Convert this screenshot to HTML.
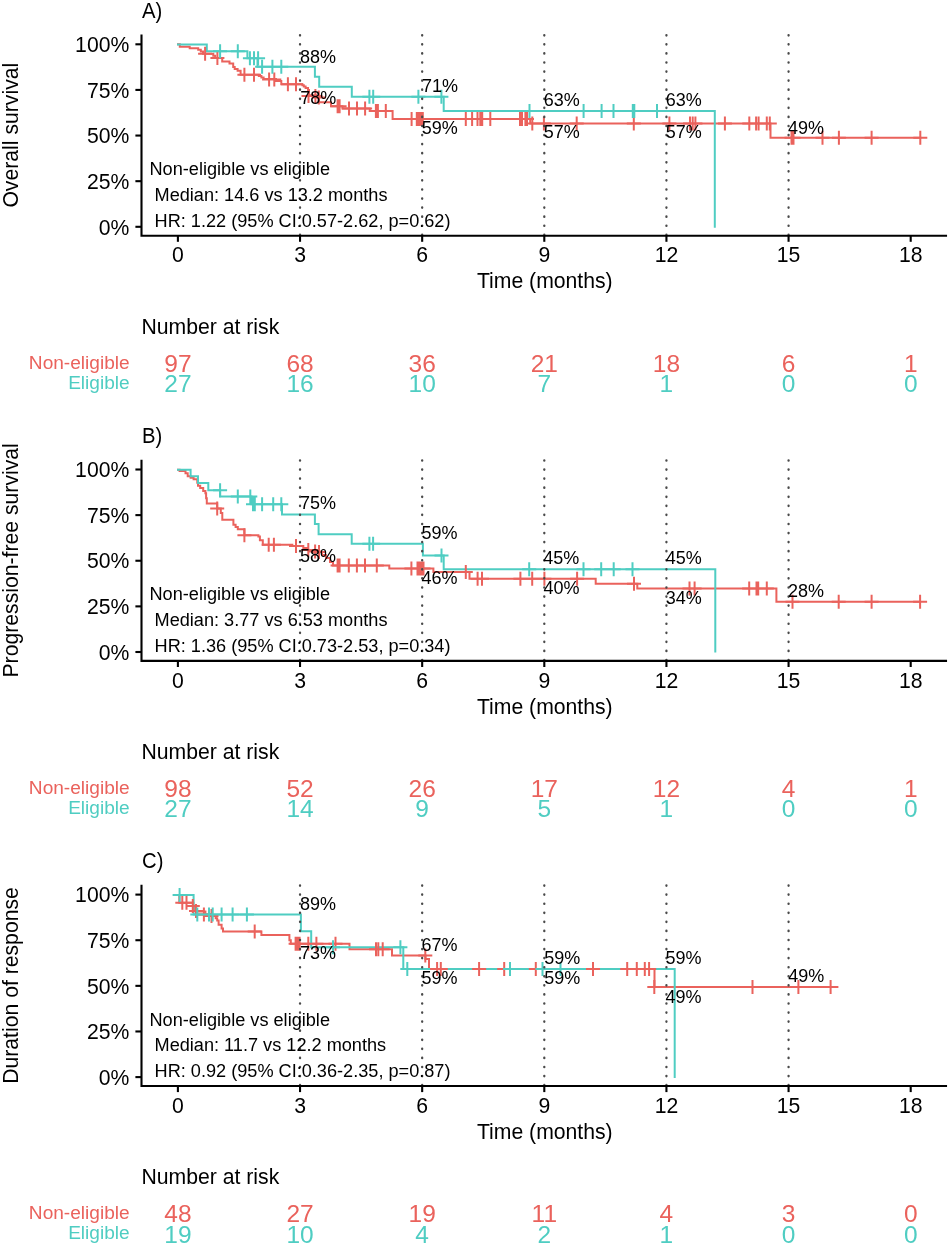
<!DOCTYPE html>
<html><head><meta charset="utf-8"><style>html,body{margin:0;padding:0;background:#fff;width:950px;height:1246px;overflow:hidden}svg text{white-space:pre} svg{will-change:transform}</style></head><body>
<svg width="950" height="1246" viewBox="0 0 950 1246" font-family='"Liberation Sans", sans-serif' style="display:block">
<rect width="950" height="1246" fill="#fff"/>
<g>
<path d="M178 44.3 H179.8 V46.7 H189.7 V48.3 H198.2 V49.8 H200.8 V51.6 H203 V53.8 H213.3 V55.7 H215.2 V57.9 H222.2 V61.6 H229.5 V63.4 H233.2 V67.1 H234.7 V69 H237.6 V70.8 H240.6 V74.8 H258.8 V76 H261.4 V77.4 H263.6 V78.9 H276 V81.1 H281.3 V84.2 H302.4 V85.2 H303.8 V86.5 H305.6 V87.9 H308 V90 H309 V95.3 H316 V97.2 H319 V102.3 H331 V106.3 H342.4 V108.5 H369.8 V110.9 H392.6 V119.1 H530.2 V123.6 H770.5 V137.8 H920.3" fill="none" stroke="#EA625C" stroke-width="2.0" stroke-linejoin="miter" stroke-linecap="square"/>
<path d="M178 44.5 H206.8 V51.2 H247.4 V58.3 H257.5 V66.7 H314.9 V76.8 H319.2 V86.7 H351.8 V96.7 H443.7 V111.1 H714.8 V226.8" fill="none" stroke="#4FCDC2" stroke-width="2.0" stroke-linejoin="miter" stroke-linecap="square"/>
<path d="M198.1 53.8h14.0M205.1 46.8v14.0 M210.4 57.9h14.0M217.4 50.9v14.0 M237.4 74.8h14.0M244.4 67.8v14.0 M247.0 74.8h14.0M254.0 67.8v14.0 M262.1 79.5h14.0M269.1 72.5v14.0 M267.3 79.5h14.0M274.3 72.5v14.0 M280.9 84.2h14.0M287.9 77.2v14.0 M289.0 84.2h14.0M296.0 77.2v14.0 M301.5 96.0h14.0M308.5 89.0v14.0 M308.4 96.0h14.0M315.4 89.0v14.0 M311.8 97.4h14.0M318.8 90.4v14.0 M330.6 106.3h14.0M337.6 99.3v14.0 M332.6 106.3h14.0M339.6 99.3v14.0 M342.0 108.5h14.0M349.0 101.5v14.0 M350.0 108.5h14.0M357.0 101.5v14.0 M358.1 108.5h14.0M365.1 101.5v14.0 M368.9 110.9h14.0M375.9 103.9v14.0 M370.9 110.9h14.0M377.9 103.9v14.0 M378.8 110.9h14.0M385.8 103.9v14.0 M404.6 119.1h14.0M411.6 112.1v14.0 M409.8 119.1h14.0M416.8 112.1v14.0 M411.8 119.1h14.0M418.8 112.1v14.0 M413.8 119.1h14.0M420.8 112.1v14.0 M415.8 119.1h14.0M422.8 112.1v14.0 M458.8 119.1h14.0M465.8 112.1v14.0 M465.1 119.1h14.0M472.1 112.1v14.0 M470.5 119.1h14.0M477.5 112.1v14.0 M473.3 119.1h14.0M480.3 112.1v14.0 M475.2 119.1h14.0M482.2 112.1v14.0 M483.3 119.1h14.0M490.3 112.1v14.0 M513.0 119.1h14.0M520.0 112.1v14.0 M515.0 119.1h14.0M522.0 112.1v14.0 M518.4 119.1h14.0M525.4 112.1v14.0 M520.0 119.1h14.0M527.0 112.1v14.0 M525.3 123.6h14.0M532.3 116.6v14.0 M536.9 123.6h14.0M543.9 116.6v14.0 M569.7 123.6h14.0M576.7 116.6v14.0 M626.8 123.6h14.0M633.8 116.6v14.0 M662.4 123.6h14.0M669.4 116.6v14.0 M683.0 123.6h14.0M690.0 116.6v14.0 M685.7 123.6h14.0M692.7 116.6v14.0 M688.4 123.6h14.0M695.4 116.6v14.0 M717.9 123.6h14.0M724.9 116.6v14.0 M742.3 123.6h14.0M749.3 116.6v14.0 M749.1 123.6h14.0M756.1 116.6v14.0 M751.6 123.6h14.0M758.6 116.6v14.0 M759.8 123.6h14.0M766.8 116.6v14.0 M762.8 123.6h14.0M769.8 116.6v14.0 M784.5 137.8h14.0M791.5 130.8v14.0 M786.5 137.8h14.0M793.5 130.8v14.0 M815.5 137.8h14.0M822.5 130.8v14.0 M831.9 137.8h14.0M838.9 130.8v14.0 M864.6 137.8h14.0M871.6 130.8v14.0 M913.3 137.8h14.0M920.3 130.8v14.0" stroke="#EA625C" stroke-width="2.0" fill="none"/>
<path d="M213.1 51.2h14.0M220.1 44.2v14.0 M230.8 51.2h14.0M237.8 44.2v14.0 M242.9 58.3h14.0M249.9 51.3v14.0 M247.0 58.3h14.0M254.0 51.3v14.0 M251.1 58.3h14.0M258.1 51.3v14.0 M255.1 66.7h14.0M262.1 59.7v14.0 M265.4 66.7h14.0M272.4 59.7v14.0 M274.3 66.7h14.0M281.3 59.7v14.0 M362.4 96.7h14.0M369.4 89.7v14.0 M366.2 96.7h14.0M373.2 89.7v14.0 M411.4 96.7h14.0M418.4 89.7v14.0 M434.4 96.7h14.0M441.4 89.7v14.0 M522.5 111.1h14.0M529.5 104.1v14.0 M576.6 111.1h14.0M583.6 104.1v14.0 M594.6 111.1h14.0M601.6 104.1v14.0 M606.5 111.1h14.0M613.5 104.1v14.0 M625.8 111.1h14.0M632.8 104.1v14.0 M627.3 111.1h14.0M634.3 104.1v14.0 M650.0 111.1h14.0M657.0 104.1v14.0" stroke="#4FCDC2" stroke-width="2.0" fill="none"/>
<line x1="300.03" y1="35.10" x2="300.03" y2="234.70" stroke="#4a4a4a" stroke-width="2.3" stroke-linecap="round" stroke-dasharray="0.4 8.67"/>
<line x1="422.17" y1="35.10" x2="422.17" y2="234.70" stroke="#4a4a4a" stroke-width="2.3" stroke-linecap="round" stroke-dasharray="0.4 8.67"/>
<line x1="544.30" y1="35.10" x2="544.30" y2="234.70" stroke="#4a4a4a" stroke-width="2.3" stroke-linecap="round" stroke-dasharray="0.4 8.67"/>
<line x1="666.43" y1="35.10" x2="666.43" y2="234.70" stroke="#4a4a4a" stroke-width="2.3" stroke-linecap="round" stroke-dasharray="0.4 8.67"/>
<line x1="788.57" y1="35.10" x2="788.57" y2="234.70" stroke="#4a4a4a" stroke-width="2.3" stroke-linecap="round" stroke-dasharray="0.4 8.67"/>
<path d="M141.5 35.50 V235.70 H946" fill="none" stroke="#000" stroke-width="2.1" stroke-linejoin="miter" stroke-linecap="square"/>
<line x1="135.4" y1="44.30" x2="141.5" y2="44.30" stroke="#000" stroke-width="2.1"/>
<text x="129.30" y="52.00" font-size="21.2" text-anchor="end" fill="#000" >100%</text>
<line x1="135.4" y1="89.92" x2="141.5" y2="89.92" stroke="#000" stroke-width="2.1"/>
<text x="129.30" y="97.62" font-size="21.2" text-anchor="end" fill="#000" >75%</text>
<line x1="135.4" y1="135.55" x2="141.5" y2="135.55" stroke="#000" stroke-width="2.1"/>
<text x="129.30" y="143.25" font-size="21.2" text-anchor="end" fill="#000" >50%</text>
<line x1="135.4" y1="181.18" x2="141.5" y2="181.18" stroke="#000" stroke-width="2.1"/>
<text x="129.30" y="188.88" font-size="21.2" text-anchor="end" fill="#000" >25%</text>
<line x1="135.4" y1="226.80" x2="141.5" y2="226.80" stroke="#000" stroke-width="2.1"/>
<text x="129.30" y="234.50" font-size="21.2" text-anchor="end" fill="#000" >0%</text>
<line x1="177.90" y1="235.70" x2="177.90" y2="241.80" stroke="#000" stroke-width="2.1"/>
<text x="177.90" y="262.40" font-size="21.2" text-anchor="middle" fill="#000" >0</text>
<line x1="300.03" y1="235.70" x2="300.03" y2="241.80" stroke="#000" stroke-width="2.1"/>
<text x="300.03" y="262.40" font-size="21.2" text-anchor="middle" fill="#000" >3</text>
<line x1="422.17" y1="235.70" x2="422.17" y2="241.80" stroke="#000" stroke-width="2.1"/>
<text x="422.17" y="262.40" font-size="21.2" text-anchor="middle" fill="#000" >6</text>
<line x1="544.30" y1="235.70" x2="544.30" y2="241.80" stroke="#000" stroke-width="2.1"/>
<text x="544.30" y="262.40" font-size="21.2" text-anchor="middle" fill="#000" >9</text>
<line x1="666.43" y1="235.70" x2="666.43" y2="241.80" stroke="#000" stroke-width="2.1"/>
<text x="666.43" y="262.40" font-size="21.2" text-anchor="middle" fill="#000" >12</text>
<line x1="788.57" y1="235.70" x2="788.57" y2="241.80" stroke="#000" stroke-width="2.1"/>
<text x="788.57" y="262.40" font-size="21.2" text-anchor="middle" fill="#000" >15</text>
<line x1="910.70" y1="235.70" x2="910.70" y2="241.80" stroke="#000" stroke-width="2.1"/>
<text x="910.70" y="262.40" font-size="21.2" text-anchor="middle" fill="#000" >18</text>
<text x="544.80" y="288.30" font-size="21.2" text-anchor="middle" fill="#000" >Time (months)</text>
<text x="0" y="0" font-size="21.2" text-anchor="middle" transform="translate(18.4 135.20) rotate(-90)">Overall survival</text>
<text x="0" y="0" font-size="21.8" transform="translate(142.0 17.70) scale(0.93 1)">A)</text>
<text x="299.90" y="62.50" font-size="18.0" text-anchor="start" fill="#000" >88%</text>
<text x="300.30" y="103.80" font-size="18.0" text-anchor="start" fill="#000" >78%</text>
<text x="422.10" y="92.00" font-size="18.0" text-anchor="start" fill="#000" >71%</text>
<text x="421.80" y="134.10" font-size="18.0" text-anchor="start" fill="#000" >59%</text>
<text x="543.80" y="106.20" font-size="18.0" text-anchor="start" fill="#000" >63%</text>
<text x="543.80" y="138.40" font-size="18.0" text-anchor="start" fill="#000" >57%</text>
<text x="665.80" y="106.20" font-size="18.0" text-anchor="start" fill="#000" >63%</text>
<text x="665.80" y="138.40" font-size="18.0" text-anchor="start" fill="#000" >57%</text>
<text x="788.10" y="133.50" font-size="18.0" text-anchor="start" fill="#000" >49%</text>
<text x="149.50" y="175.20" font-size="18.15" text-anchor="start" fill="#000" >Non-eligible vs eligible</text>
<text x="149.50" y="200.85" font-size="18.15" text-anchor="start" fill="#000" >&#160;Median:&#160;14.6&#160;vs&#160;13.2&#160;months</text>
<text x="149.50" y="226.50" font-size="18.15" text-anchor="start" fill="#000" >&#160;HR:&#160;1.22&#160;(95%&#160;CI:0.57-2.62,&#160;p=0.62)</text>
<text x="141.50" y="334.10" font-size="21.2" text-anchor="start" fill="#000" >Number at risk</text>
<text x="129.70" y="368.50" font-size="19.1" text-anchor="end" fill="#EA625C" >Non-eligible</text>
<text x="129.70" y="388.90" font-size="19.1" text-anchor="end" fill="#4FCDC2" >Eligible</text>
<text x="177.90" y="372.00" font-size="24.5" text-anchor="middle" fill="#EA625C" >97</text>
<text x="177.90" y="392.20" font-size="24.5" text-anchor="middle" fill="#4FCDC2" >27</text>
<text x="300.03" y="372.00" font-size="24.5" text-anchor="middle" fill="#EA625C" >68</text>
<text x="300.03" y="392.20" font-size="24.5" text-anchor="middle" fill="#4FCDC2" >16</text>
<text x="422.17" y="372.00" font-size="24.5" text-anchor="middle" fill="#EA625C" >36</text>
<text x="422.17" y="392.20" font-size="24.5" text-anchor="middle" fill="#4FCDC2" >10</text>
<text x="544.30" y="372.00" font-size="24.5" text-anchor="middle" fill="#EA625C" >21</text>
<text x="544.30" y="392.20" font-size="24.5" text-anchor="middle" fill="#4FCDC2" >7</text>
<text x="666.43" y="372.00" font-size="24.5" text-anchor="middle" fill="#EA625C" >18</text>
<text x="666.43" y="392.20" font-size="24.5" text-anchor="middle" fill="#4FCDC2" >1</text>
<text x="788.57" y="372.00" font-size="24.5" text-anchor="middle" fill="#EA625C" >6</text>
<text x="788.57" y="392.20" font-size="24.5" text-anchor="middle" fill="#4FCDC2" >0</text>
<text x="910.70" y="372.00" font-size="24.5" text-anchor="middle" fill="#EA625C" >1</text>
<text x="910.70" y="392.20" font-size="24.5" text-anchor="middle" fill="#4FCDC2" >0</text>
</g>
<g>
<path d="M178 469.7 H179.6 V471 H185.5 V473.3 H187.7 V476.2 H190.6 V477.7 H193.6 V479.2 H197.3 V482.8 H198 V485.8 H200.2 V488 H203.2 V491 H205.4 V493.2 H206.1 V498.3 H206.8 V503.5 H217.2 V508.6 H220.8 V513 H222.3 V519.7 H233.4 V524.8 H235.6 V527 H237.8 V529.3 H244.4 V535.2 H258.4 V536.6 H259.9 V540.3 H262.8 V544.7 H292.3 V546.1 H303.3 V548 H308 V550 H319 V552 H322 V555 H326 V558 H330 V562 H333 V565.5 H389.3 V568.5 H433.4 V571.9 H469.5 V578.8 H595.7 V583.8 H637.3 V588.6 H776.4 V601.8 H920.1" fill="none" stroke="#EA625C" stroke-width="2.0" stroke-linejoin="miter" stroke-linecap="square"/>
<path d="M178 469.7 H190.6 V476.3 H198 V483 H208.3 V490.2 H220.1 V496.6 H251.5 V504.2 H282 V514.6 H314.9 V523.9 H318.6 V534.2 H351.7 V543.7 H422.9 V555.5 H443.7 V569.3 H715.3 V651.6" fill="none" stroke="#4FCDC2" stroke-width="2.0" stroke-linejoin="miter" stroke-linecap="square"/>
<path d="M210.2 508.6h14.0M217.2 501.6v14.0 M237.4 535.2h14.0M244.4 528.2v14.0 M261.7 544.7h14.0M268.7 537.7v14.0 M266.9 544.7h14.0M273.9 537.7v14.0 M289.0 546.1h14.0M296.0 539.1v14.0 M301.3 550.0h14.0M308.3 543.0v14.0 M308.1 551.5h14.0M315.1 544.5v14.0 M312.0 552.0h14.0M319.0 545.0v14.0 M330.6 565.5h14.0M337.6 558.5v14.0 M332.6 565.5h14.0M339.6 558.5v14.0 M341.8 565.5h14.0M348.8 558.5v14.0 M349.9 565.5h14.0M356.9 558.5v14.0 M358.0 565.5h14.0M365.0 558.5v14.0 M369.8 565.5h14.0M376.8 558.5v14.0 M404.4 568.5h14.0M411.4 561.5v14.0 M410.5 568.5h14.0M417.5 561.5v14.0 M412.5 568.5h14.0M419.5 561.5v14.0 M414.5 568.5h14.0M421.5 561.5v14.0 M416.5 568.5h14.0M423.5 561.5v14.0 M458.8 571.9h14.0M465.8 564.9v14.0 M470.6 578.8h14.0M477.6 571.8v14.0 M475.0 578.8h14.0M482.0 571.8v14.0 M513.4 578.8h14.0M520.4 571.8v14.0 M525.2 578.8h14.0M532.2 571.8v14.0 M537.4 578.8h14.0M544.4 571.8v14.0 M570.1 578.8h14.0M577.1 571.8v14.0 M627.0 583.8h14.0M634.0 576.8v14.0 M682.5 588.6h14.0M689.5 581.6v14.0 M687.6 588.6h14.0M694.6 581.6v14.0 M742.2 588.6h14.0M749.2 581.6v14.0 M749.5 588.6h14.0M756.5 581.6v14.0 M751.2 588.6h14.0M758.2 581.6v14.0 M759.8 588.6h14.0M766.8 581.6v14.0 M785.5 601.8h14.0M792.5 594.8v14.0 M831.7 601.8h14.0M838.7 594.8v14.0 M864.6 601.8h14.0M871.6 594.8v14.0 M913.1 601.8h14.0M920.1 594.8v14.0" stroke="#EA625C" stroke-width="2.0" fill="none"/>
<path d="M213.1 490.2h14.0M220.1 483.2v14.0 M230.8 496.6h14.0M237.8 489.6v14.0 M243.3 496.6h14.0M250.3 489.6v14.0 M246.0 504.2h14.0M253.0 497.2v14.0 M247.8 504.2h14.0M254.8 497.2v14.0 M255.1 504.2h14.0M262.1 497.2v14.0 M266.2 504.2h14.0M273.2 497.2v14.0 M274.3 504.2h14.0M281.3 497.2v14.0 M362.4 543.7h14.0M369.4 536.7v14.0 M366.1 543.7h14.0M373.1 536.7v14.0 M434.5 555.5h14.0M441.5 548.5v14.0 M522.2 569.3h14.0M529.2 562.3v14.0 M576.5 569.3h14.0M583.5 562.3v14.0 M594.2 569.3h14.0M601.2 562.3v14.0 M606.7 569.3h14.0M613.7 562.3v14.0 M625.5 569.3h14.0M632.5 562.3v14.0" stroke="#4FCDC2" stroke-width="2.0" fill="none"/>
<line x1="300.03" y1="460.30" x2="300.03" y2="659.90" stroke="#4a4a4a" stroke-width="2.3" stroke-linecap="round" stroke-dasharray="0.4 8.67"/>
<line x1="422.17" y1="460.30" x2="422.17" y2="659.90" stroke="#4a4a4a" stroke-width="2.3" stroke-linecap="round" stroke-dasharray="0.4 8.67"/>
<line x1="544.30" y1="460.30" x2="544.30" y2="659.90" stroke="#4a4a4a" stroke-width="2.3" stroke-linecap="round" stroke-dasharray="0.4 8.67"/>
<line x1="666.43" y1="460.30" x2="666.43" y2="659.90" stroke="#4a4a4a" stroke-width="2.3" stroke-linecap="round" stroke-dasharray="0.4 8.67"/>
<line x1="788.57" y1="460.30" x2="788.57" y2="659.90" stroke="#4a4a4a" stroke-width="2.3" stroke-linecap="round" stroke-dasharray="0.4 8.67"/>
<path d="M141.5 460.70 V660.90 H946" fill="none" stroke="#000" stroke-width="2.1" stroke-linejoin="miter" stroke-linecap="square"/>
<line x1="135.4" y1="469.50" x2="141.5" y2="469.50" stroke="#000" stroke-width="2.1"/>
<text x="129.30" y="477.20" font-size="21.2" text-anchor="end" fill="#000" >100%</text>
<line x1="135.4" y1="515.12" x2="141.5" y2="515.12" stroke="#000" stroke-width="2.1"/>
<text x="129.30" y="522.83" font-size="21.2" text-anchor="end" fill="#000" >75%</text>
<line x1="135.4" y1="560.75" x2="141.5" y2="560.75" stroke="#000" stroke-width="2.1"/>
<text x="129.30" y="568.45" font-size="21.2" text-anchor="end" fill="#000" >50%</text>
<line x1="135.4" y1="606.38" x2="141.5" y2="606.38" stroke="#000" stroke-width="2.1"/>
<text x="129.30" y="614.08" font-size="21.2" text-anchor="end" fill="#000" >25%</text>
<line x1="135.4" y1="652.00" x2="141.5" y2="652.00" stroke="#000" stroke-width="2.1"/>
<text x="129.30" y="659.70" font-size="21.2" text-anchor="end" fill="#000" >0%</text>
<line x1="177.90" y1="660.90" x2="177.90" y2="667.00" stroke="#000" stroke-width="2.1"/>
<text x="177.90" y="687.60" font-size="21.2" text-anchor="middle" fill="#000" >0</text>
<line x1="300.03" y1="660.90" x2="300.03" y2="667.00" stroke="#000" stroke-width="2.1"/>
<text x="300.03" y="687.60" font-size="21.2" text-anchor="middle" fill="#000" >3</text>
<line x1="422.17" y1="660.90" x2="422.17" y2="667.00" stroke="#000" stroke-width="2.1"/>
<text x="422.17" y="687.60" font-size="21.2" text-anchor="middle" fill="#000" >6</text>
<line x1="544.30" y1="660.90" x2="544.30" y2="667.00" stroke="#000" stroke-width="2.1"/>
<text x="544.30" y="687.60" font-size="21.2" text-anchor="middle" fill="#000" >9</text>
<line x1="666.43" y1="660.90" x2="666.43" y2="667.00" stroke="#000" stroke-width="2.1"/>
<text x="666.43" y="687.60" font-size="21.2" text-anchor="middle" fill="#000" >12</text>
<line x1="788.57" y1="660.90" x2="788.57" y2="667.00" stroke="#000" stroke-width="2.1"/>
<text x="788.57" y="687.60" font-size="21.2" text-anchor="middle" fill="#000" >15</text>
<line x1="910.70" y1="660.90" x2="910.70" y2="667.00" stroke="#000" stroke-width="2.1"/>
<text x="910.70" y="687.60" font-size="21.2" text-anchor="middle" fill="#000" >18</text>
<text x="544.80" y="713.50" font-size="21.2" text-anchor="middle" fill="#000" >Time (months)</text>
<text x="0" y="0" font-size="21.2" text-anchor="middle" transform="translate(18.4 560.40) rotate(-90)">Progression-free survival</text>
<text x="0" y="0" font-size="21.8" transform="translate(142.0 442.90) scale(0.93 1)">B)</text>
<text x="300.10" y="509.40" font-size="18.0" text-anchor="start" fill="#000" >75%</text>
<text x="300.10" y="561.90" font-size="18.0" text-anchor="start" fill="#000" >58%</text>
<text x="421.60" y="539.10" font-size="18.0" text-anchor="start" fill="#000" >59%</text>
<text x="421.60" y="584.10" font-size="18.0" text-anchor="start" fill="#000" >46%</text>
<text x="543.30" y="564.30" font-size="18.0" text-anchor="start" fill="#000" >45%</text>
<text x="543.60" y="593.90" font-size="18.0" text-anchor="start" fill="#000" >40%</text>
<text x="665.80" y="564.30" font-size="18.0" text-anchor="start" fill="#000" >45%</text>
<text x="665.80" y="604.10" font-size="18.0" text-anchor="start" fill="#000" >34%</text>
<text x="788.10" y="596.60" font-size="18.0" text-anchor="start" fill="#000" >28%</text>
<text x="149.50" y="600.40" font-size="18.15" text-anchor="start" fill="#000" >Non-eligible vs eligible</text>
<text x="149.50" y="626.05" font-size="18.15" text-anchor="start" fill="#000" >&#160;Median:&#160;3.77&#160;vs&#160;6.53&#160;months</text>
<text x="149.50" y="651.70" font-size="18.15" text-anchor="start" fill="#000" >&#160;HR:&#160;1.36&#160;(95%&#160;CI:0.73-2.53,&#160;p=0.34)</text>
<text x="141.50" y="759.30" font-size="21.2" text-anchor="start" fill="#000" >Number at risk</text>
<text x="129.70" y="793.70" font-size="19.1" text-anchor="end" fill="#EA625C" >Non-eligible</text>
<text x="129.70" y="814.10" font-size="19.1" text-anchor="end" fill="#4FCDC2" >Eligible</text>
<text x="177.90" y="797.20" font-size="24.5" text-anchor="middle" fill="#EA625C" >98</text>
<text x="177.90" y="817.40" font-size="24.5" text-anchor="middle" fill="#4FCDC2" >27</text>
<text x="300.03" y="797.20" font-size="24.5" text-anchor="middle" fill="#EA625C" >52</text>
<text x="300.03" y="817.40" font-size="24.5" text-anchor="middle" fill="#4FCDC2" >14</text>
<text x="422.17" y="797.20" font-size="24.5" text-anchor="middle" fill="#EA625C" >26</text>
<text x="422.17" y="817.40" font-size="24.5" text-anchor="middle" fill="#4FCDC2" >9</text>
<text x="544.30" y="797.20" font-size="24.5" text-anchor="middle" fill="#EA625C" >17</text>
<text x="544.30" y="817.40" font-size="24.5" text-anchor="middle" fill="#4FCDC2" >5</text>
<text x="666.43" y="797.20" font-size="24.5" text-anchor="middle" fill="#EA625C" >12</text>
<text x="666.43" y="817.40" font-size="24.5" text-anchor="middle" fill="#4FCDC2" >1</text>
<text x="788.57" y="797.20" font-size="24.5" text-anchor="middle" fill="#EA625C" >4</text>
<text x="788.57" y="817.40" font-size="24.5" text-anchor="middle" fill="#4FCDC2" >0</text>
<text x="910.70" y="797.20" font-size="24.5" text-anchor="middle" fill="#EA625C" >1</text>
<text x="910.70" y="817.40" font-size="24.5" text-anchor="middle" fill="#4FCDC2" >0</text>
</g>
<g>
<path d="M178 894.9 H179.3 V902.7 H193.3 V906 H194.5 V910 H197 V911.5 H205.4 V914.4 H212 V916 H215.7 V918.2 H217.2 V920.4 H218.6 V924.8 H221.6 V928.5 H223 V931.4 H261.4 V935.1 H289.4 V940.3 H290.8 V943.8 H349.5 V949.2 H392 V955.6 H425.5 V959 H429 V969 H654.5 V987 H837.4" fill="none" stroke="#EA625C" stroke-width="2.0" stroke-linejoin="miter" stroke-linecap="square"/>
<path d="M178 894.9 H193.6 V914.6 H300.9 V931.2 H311.2 V947.3 H403.3 V969 H674.7 V1077" fill="none" stroke="#4FCDC2" stroke-width="2.0" stroke-linejoin="miter" stroke-linecap="square"/>
<path d="M175.3 902.7h14.0M182.3 895.7v14.0 M179.5 902.7h14.0M186.5 895.7v14.0 M185.8 906.0h14.0M192.8 899.0v14.0 M189.0 911.0h14.0M196.0 904.0v14.0 M196.9 914.4h14.0M203.9 907.4v14.0 M204.5 916.0h14.0M211.5 909.0v14.0 M247.7 931.4h14.0M254.7 924.4v14.0 M288.6 943.8h14.0M295.6 936.8v14.0 M290.6 943.8h14.0M297.6 936.8v14.0 M292.6 943.8h14.0M299.6 936.8v14.0 M301.3 943.8h14.0M308.3 936.8v14.0 M309.4 943.8h14.0M316.4 936.8v14.0 M328.5 943.8h14.0M335.5 936.8v14.0 M369.0 949.2h14.0M376.0 942.2v14.0 M371.3 949.2h14.0M378.3 942.2v14.0 M375.7 949.2h14.0M382.7 942.2v14.0 M418.3 955.6h14.0M425.3 948.6v14.0 M430.1 969.0h14.0M437.1 962.0v14.0 M433.8 969.0h14.0M440.8 962.0v14.0 M472.1 969.0h14.0M479.1 962.0v14.0 M497.2 969.0h14.0M504.2 962.0v14.0 M528.8 969.0h14.0M535.8 962.0v14.0 M586.0 969.0h14.0M593.0 962.0v14.0 M620.2 969.0h14.0M627.2 962.0v14.0 M629.8 969.0h14.0M636.8 962.0v14.0 M637.8 969.0h14.0M644.8 962.0v14.0 M642.1 969.0h14.0M649.1 962.0v14.0 M647.3 987.0h14.0M654.3 980.0v14.0 M745.5 987.0h14.0M752.5 980.0v14.0 M791.4 987.0h14.0M798.4 980.0v14.0 M823.6 987.0h14.0M830.6 980.0v14.0" stroke="#EA625C" stroke-width="2.0" fill="none"/>
<path d="M172.6 894.9h14.0M179.6 887.9v14.0 M190.3 914.6h14.0M197.3 907.6v14.0 M202.0 914.6h14.0M209.0 907.6v14.0 M205.7 914.6h14.0M212.7 907.6v14.0 M214.6 914.6h14.0M221.6 907.6v14.0 M225.6 914.6h14.0M232.6 907.6v14.0 M239.9 914.6h14.0M246.9 907.6v14.0 M326.0 947.3h14.0M333.0 940.3v14.0 M393.4 947.3h14.0M400.4 940.3v14.0 M400.3 969.0h14.0M407.3 962.0v14.0 M503.0 969.0h14.0M510.0 962.0v14.0 M535.5 969.0h14.0M542.5 962.0v14.0 M553.5 969.0h14.0M560.5 962.0v14.0" stroke="#4FCDC2" stroke-width="2.0" fill="none"/>
<line x1="300.03" y1="885.40" x2="300.03" y2="1085.00" stroke="#4a4a4a" stroke-width="2.3" stroke-linecap="round" stroke-dasharray="0.4 8.67"/>
<line x1="422.17" y1="885.40" x2="422.17" y2="1085.00" stroke="#4a4a4a" stroke-width="2.3" stroke-linecap="round" stroke-dasharray="0.4 8.67"/>
<line x1="544.30" y1="885.40" x2="544.30" y2="1085.00" stroke="#4a4a4a" stroke-width="2.3" stroke-linecap="round" stroke-dasharray="0.4 8.67"/>
<line x1="666.43" y1="885.40" x2="666.43" y2="1085.00" stroke="#4a4a4a" stroke-width="2.3" stroke-linecap="round" stroke-dasharray="0.4 8.67"/>
<line x1="788.57" y1="885.40" x2="788.57" y2="1085.00" stroke="#4a4a4a" stroke-width="2.3" stroke-linecap="round" stroke-dasharray="0.4 8.67"/>
<path d="M141.5 885.80 V1086.00 H946" fill="none" stroke="#000" stroke-width="2.1" stroke-linejoin="miter" stroke-linecap="square"/>
<line x1="135.4" y1="894.60" x2="141.5" y2="894.60" stroke="#000" stroke-width="2.1"/>
<text x="129.30" y="902.30" font-size="21.2" text-anchor="end" fill="#000" >100%</text>
<line x1="135.4" y1="940.22" x2="141.5" y2="940.22" stroke="#000" stroke-width="2.1"/>
<text x="129.30" y="947.92" font-size="21.2" text-anchor="end" fill="#000" >75%</text>
<line x1="135.4" y1="985.85" x2="141.5" y2="985.85" stroke="#000" stroke-width="2.1"/>
<text x="129.30" y="993.55" font-size="21.2" text-anchor="end" fill="#000" >50%</text>
<line x1="135.4" y1="1031.47" x2="141.5" y2="1031.47" stroke="#000" stroke-width="2.1"/>
<text x="129.30" y="1039.17" font-size="21.2" text-anchor="end" fill="#000" >25%</text>
<line x1="135.4" y1="1077.10" x2="141.5" y2="1077.10" stroke="#000" stroke-width="2.1"/>
<text x="129.30" y="1084.80" font-size="21.2" text-anchor="end" fill="#000" >0%</text>
<line x1="177.90" y1="1086.00" x2="177.90" y2="1092.10" stroke="#000" stroke-width="2.1"/>
<text x="177.90" y="1112.70" font-size="21.2" text-anchor="middle" fill="#000" >0</text>
<line x1="300.03" y1="1086.00" x2="300.03" y2="1092.10" stroke="#000" stroke-width="2.1"/>
<text x="300.03" y="1112.70" font-size="21.2" text-anchor="middle" fill="#000" >3</text>
<line x1="422.17" y1="1086.00" x2="422.17" y2="1092.10" stroke="#000" stroke-width="2.1"/>
<text x="422.17" y="1112.70" font-size="21.2" text-anchor="middle" fill="#000" >6</text>
<line x1="544.30" y1="1086.00" x2="544.30" y2="1092.10" stroke="#000" stroke-width="2.1"/>
<text x="544.30" y="1112.70" font-size="21.2" text-anchor="middle" fill="#000" >9</text>
<line x1="666.43" y1="1086.00" x2="666.43" y2="1092.10" stroke="#000" stroke-width="2.1"/>
<text x="666.43" y="1112.70" font-size="21.2" text-anchor="middle" fill="#000" >12</text>
<line x1="788.57" y1="1086.00" x2="788.57" y2="1092.10" stroke="#000" stroke-width="2.1"/>
<text x="788.57" y="1112.70" font-size="21.2" text-anchor="middle" fill="#000" >15</text>
<line x1="910.70" y1="1086.00" x2="910.70" y2="1092.10" stroke="#000" stroke-width="2.1"/>
<text x="910.70" y="1112.70" font-size="21.2" text-anchor="middle" fill="#000" >18</text>
<text x="544.80" y="1138.60" font-size="21.2" text-anchor="middle" fill="#000" >Time (months)</text>
<text x="0" y="0" font-size="21.2" text-anchor="middle" transform="translate(18.4 985.50) rotate(-90)">Duration of response</text>
<text x="0" y="0" font-size="21.8" transform="translate(142.0 868.00) scale(0.93 1)">C)</text>
<text x="299.90" y="910.30" font-size="18.0" text-anchor="start" fill="#000" >89%</text>
<text x="300.10" y="958.90" font-size="18.0" text-anchor="start" fill="#000" >73%</text>
<text x="421.60" y="950.90" font-size="18.0" text-anchor="start" fill="#000" >67%</text>
<text x="421.60" y="984.10" font-size="18.0" text-anchor="start" fill="#000" >59%</text>
<text x="544.20" y="964.40" font-size="18.0" text-anchor="start" fill="#000" >59%</text>
<text x="544.20" y="984.10" font-size="18.0" text-anchor="start" fill="#000" >59%</text>
<text x="665.50" y="964.40" font-size="18.0" text-anchor="start" fill="#000" >59%</text>
<text x="665.50" y="1002.90" font-size="18.0" text-anchor="start" fill="#000" >49%</text>
<text x="788.20" y="982.20" font-size="18.0" text-anchor="start" fill="#000" >49%</text>
<text x="149.50" y="1025.50" font-size="18.15" text-anchor="start" fill="#000" >Non-eligible vs eligible</text>
<text x="149.50" y="1051.15" font-size="18.15" text-anchor="start" fill="#000" >&#160;Median:&#160;11.7&#160;vs&#160;12.2&#160;months</text>
<text x="149.50" y="1076.80" font-size="18.15" text-anchor="start" fill="#000" >&#160;HR:&#160;0.92&#160;(95%&#160;CI:0.36-2.35,&#160;p=0.87)</text>
<text x="141.50" y="1184.40" font-size="21.2" text-anchor="start" fill="#000" >Number at risk</text>
<text x="129.70" y="1218.80" font-size="19.1" text-anchor="end" fill="#EA625C" >Non-eligible</text>
<text x="129.70" y="1239.20" font-size="19.1" text-anchor="end" fill="#4FCDC2" >Eligible</text>
<text x="177.90" y="1222.30" font-size="24.5" text-anchor="middle" fill="#EA625C" >48</text>
<text x="177.90" y="1242.50" font-size="24.5" text-anchor="middle" fill="#4FCDC2" >19</text>
<text x="300.03" y="1222.30" font-size="24.5" text-anchor="middle" fill="#EA625C" >27</text>
<text x="300.03" y="1242.50" font-size="24.5" text-anchor="middle" fill="#4FCDC2" >10</text>
<text x="422.17" y="1222.30" font-size="24.5" text-anchor="middle" fill="#EA625C" >19</text>
<text x="422.17" y="1242.50" font-size="24.5" text-anchor="middle" fill="#4FCDC2" >4</text>
<text x="544.30" y="1222.30" font-size="24.5" text-anchor="middle" fill="#EA625C" >11</text>
<text x="544.30" y="1242.50" font-size="24.5" text-anchor="middle" fill="#4FCDC2" >2</text>
<text x="666.43" y="1222.30" font-size="24.5" text-anchor="middle" fill="#EA625C" >4</text>
<text x="666.43" y="1242.50" font-size="24.5" text-anchor="middle" fill="#4FCDC2" >1</text>
<text x="788.57" y="1222.30" font-size="24.5" text-anchor="middle" fill="#EA625C" >3</text>
<text x="788.57" y="1242.50" font-size="24.5" text-anchor="middle" fill="#4FCDC2" >0</text>
<text x="910.70" y="1222.30" font-size="24.5" text-anchor="middle" fill="#EA625C" >0</text>
<text x="910.70" y="1242.50" font-size="24.5" text-anchor="middle" fill="#4FCDC2" >0</text>
</g>
</svg>
</body></html>
